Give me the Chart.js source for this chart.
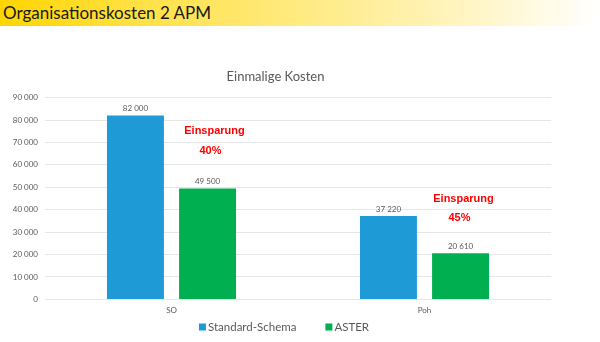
<!DOCTYPE html>
<html>
<head>
<meta charset="utf-8">
<script src="https://cdn.jsdelivr.net/npm/chart.js@4"></script>
<style>
    body { margin: 0; width: 600px; height: 342px; overflow: hidden; background: #fff; font-family: "Lato", sans-serif; }
    #header {
        position: absolute; left: 0; top: 0; width: 600px; height: 26px;
        background: linear-gradient(to right, #FFD500 0%, #FFE24A 25%, #FFEC8C 55%, #FFF6C8 80%, #FFFFFF 100%);
        z-index: 2;
    }
    #header span { position: absolute; left: 3px; top: 2px; font-size: 17px; color: #1a1a1a; }
    #wrap { position: absolute; left: 0; top: 0; width: 600px; height: 342px; }
</style>
</head>
<body>
<div id="header"><span>Organisationskosten 2 APM</span></div>
<div id="wrap"><canvas id="chart" width="600" height="342"></canvas></div>
<script>
var categories = ["SO", "Poh"];
var standardSchema = [82000, 37220];
var aster = [49500, 20610];
var yTicks = [0, 10000, 20000, 30000, 40000, 50000, 60000, 70000, 80000, 90000];

function fmt(v) {
    return String(v).replace(/\B(?=(\d{3})+(?!\d))/g, " ");
}

// Beschriftung oberhalb der Balken
var valueLabels = {
    id: "valueLabels",
    afterDatasetsDraw: function (chart) {
        var ctx = chart.ctx;
        ctx.save();
        ctx.font = "8px Lato";
        ctx.fillStyle = "#595959";
        ctx.textAlign = "center";
        ctx.textBaseline = "bottom";
        chart.data.datasets.forEach(function (ds, i) {
            chart.getDatasetMeta(i).data.forEach(function (bar, j) {
                ctx.fillText(fmt(ds.data[j]), bar.x, bar.y - 3);
            });
        });
        ctx.restore();
    },
};

// "Einsparung" Texte
var savings = {
    id: "savings",
    afterDatasetsDraw: function (chart) {
        var ctx = chart.ctx;
        var x = chart.scales.x, y = chart.scales.y;
        var offsets = [[43, 75300, 66400], [39, 45000, 36100]];
        ctx.save();
        ctx.font = "bold 11px 'Liberation Sans'";
        ctx.fillStyle = "#FF0000";
        ctx.textAlign = "center";
        ctx.textBaseline = "middle";
        categories.forEach(function (c, i) {
            var pct = Math.round((1 - aster[i] / standardSchema[i]) * 100);
            var cx = x.getPixelForValue(i) + offsets[i][0];
            ctx.fillText("Einsparung", cx, y.getPixelForValue(offsets[i][1]));
            ctx.fillText(pct + "%", cx - 4, y.getPixelForValue(offsets[i][2]));
        });
        ctx.restore();
    },
};

// Legende unten (eigene Zeichnung wegen Abständen)
var bottomLegend = {
    id: "bottomLegend",
    afterDraw: function (chart) {
        var ctx = chart.ctx;
        var ds = chart.data.datasets;
        var y = 327, gap = 29, box = 7;
        ctx.save();
        ctx.font = "11.5px Lato";
        ctx.textBaseline = "middle";
        var total = 0;
        ds.forEach(function (d, i) {
            total += box + 2 + ctx.measureText(d.label).width + (i < ds.length - 1 ? gap : 0);
        });
        var cx = 284 - total / 2;
        ds.forEach(function (d) {
            ctx.fillStyle = d.backgroundColor;
            ctx.fillRect(cx, y - box / 2, box, box);
            cx += box + 2;
            ctx.fillStyle = "#595959";
            ctx.fillText(d.label, cx, y);
            cx += ctx.measureText(d.label).width + gap;
        });
        ctx.restore();
    },
};

new Chart(document.getElementById("chart").getContext("2d"), {
    type: "bar",
    data: {
        labels: categories,
        datasets: [
            { label: "Standard-Schema", data: standardSchema, backgroundColor: "#1E9BD7" },
            { label: "ASTER", data: aster, backgroundColor: "#00B050" },
        ],
    },
    options: {
        responsive: false,
        animation: false,
        categoryPercentage: 0.57,
        barPercentage: 0.79,
        layout: { padding: { top: 69, right: 49, bottom: 21, left: 0 } },
        plugins: {
            title: {
                display: true,
                text: "Einmalige Kosten",
                color: "#595959",
                font: { family: "Lato", size: 13, weight: "normal" },
                padding: { top: 0, bottom: 13 },
            },
            legend: { display: false },
            tooltip: { enabled: false },
        },
        scales: {
            x: {
                grid: { display: false, drawTicks: false },
                border: { display: false },
                ticks: { color: "#595959", font: { family: "Lato", size: 8 }, padding: 6 },
            },
            y: {
                min: 0,
                max: 90000,
                afterFit: function (s) { s.width = 45; },
                afterBuildTicks: function (s) { s.ticks = yTicks.map(function (v) { return { value: v }; }); },
                grid: { color: "#E6E6E6", drawTicks: false },
                border: { display: false },
                ticks: {
                    color: "#595959",
                    font: { family: "Lato", size: 8 },
                    padding: 7,
                    callback: function (v) { return fmt(v); },
                },
            },
        },
    },
    plugins: [valueLabels, savings, bottomLegend],
});
</script>
</body>
</html>
